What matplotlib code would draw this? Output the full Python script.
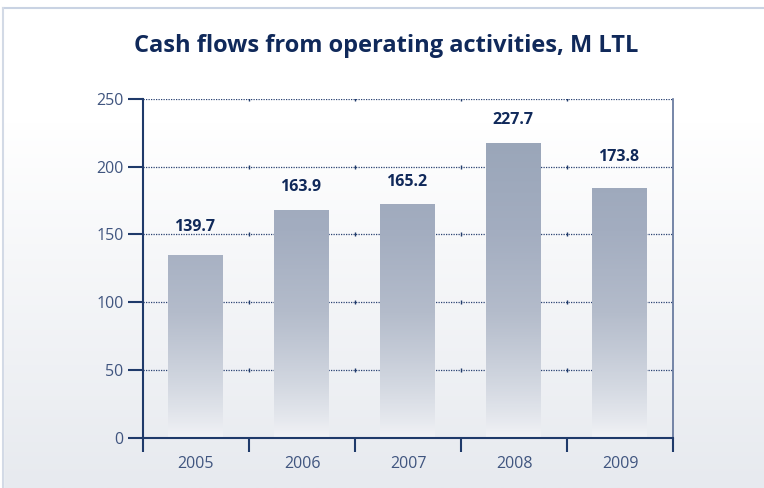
import numpy as np
import matplotlib.pyplot as plt
from matplotlib.colors import LinearSegmentedColormap

# Data
years = ['2005', '2006', '2007', '2008', '2009']
bar_heights = [134.8, 168.0, 172.5, 217.7, 184.3]      # drawn bar heights
bar_labels = ['139.7', '163.9', '165.2', '227.7', '173.8']  # printed values
y_ticks = [0, 50, 100, 150, 200, 250]

# label offsets above each bar (data units), as placed in the original
label_pad = [21, 17, 16, 17, 23]

NAVY = '#10295a'
AXIS = '#1f3a6a'
TICK_TXT = '#40557f'

plt.rcParams['font.family'] = ['Open Sans', 'DejaVu Sans']

fig = plt.figure(figsize=(7.64, 4.88), dpi=100)

# background: white to pale grey-blue, with a thin frame on top / left
bg = fig.add_axes([0, 0, 1, 1], zorder=-10)
grad = np.linspace(0, 1, 256).reshape(-1, 1)
grad = np.clip((grad - 0.25) / 0.75, 0, 1)
bg_cmap = LinearSegmentedColormap.from_list('bg', ['#ffffff', '#e7eaef'])
bg.imshow(grad, aspect='auto', cmap=bg_cmap, extent=[0, 1, 0, 1], origin='upper')
bg.set_xlim(0, 1)
bg.set_ylim(0, 1)
bg.axis('off')
bg.fill_between([0, 1], 1 - 7 / 488, 1, color='white', zorder=2)
bg.fill_between([0, 3 / 764], 0, 1, color='white', zorder=2)
bg.plot([3 / 764, 1], [1 - 8 / 488, 1 - 8 / 488], color='#c9d3e3', lw=1.5, zorder=3)
bg.plot([3.5 / 764, 3.5 / 764], [0, 1 - 8 / 488], color='#d3dae6', lw=1.5, zorder=3)

fig.text(0.506, 0.905, 'Cash flows from operating activities, M LTL',
         ha='center', va='center', fontsize=17, fontweight='bold', color=NAVY)

ax = fig.add_axes([143 / 764, 50.3 / 488, 530 / 764, 338.7 / 488])
ax.set_facecolor('none')

# gridlines (dotted) with small marks at the category boundaries
for v in y_ticks[1:]:
    ax.axhline(v, color='#2a4272', lw=0.9, ls=(0, (1, 1)), zorder=1)
    ax.plot(range(1, len(years)), [v] * (len(years) - 1), ls='none',
            marker='|', ms=2.5, mew=1.0, color=AXIS, zorder=1)

# gradient-filled bars
bar_cmap = LinearSegmentedColormap.from_list(
    'bar', ['#f3f4f7', '#d3d8e1', '#b4bccb', '#a3adc0', '#9aa6b9'])
width = 0.51
for i, h in enumerate(bar_heights):
    x0 = i + 0.49 - width / 2
    col = np.linspace(0, h, 200).reshape(-1, 1)
    ax.imshow(np.clip(col / 220, 0, 1) ** 0.8, cmap=bar_cmap, vmin=0, vmax=1,
              aspect='auto', origin='lower', extent=[x0, x0 + width, 0, h],
              zorder=2)
    ax.text(i + 0.49, h + label_pad[i], bar_labels[i], ha='center', va='center',
            fontsize=11.5, fontweight='bold', color=NAVY, zorder=3)

ax.set_xlim(0, len(years))
ax.set_ylim(0, 250)

ax.spines['top'].set_visible(False)
ax.spines['left'].set_color(AXIS)
ax.spines['left'].set_linewidth(1.5)
ax.spines['bottom'].set_color(AXIS)
ax.spines['bottom'].set_linewidth(1.5)
ax.spines['right'].set_color('#5f7299')
ax.spines['right'].set_linewidth(1.2)
for sp in ax.spines.values():
    sp.set_zorder(4)

ax.set_yticks(y_ticks)
ax.set_yticklabels([str(v) for v in y_ticks])
ax.tick_params(axis='y', direction='out', length=11, width=1.5, color=AXIS,
               labelsize=11.5, labelcolor=TICK_TXT, pad=3)

ax.set_xticks(range(len(years) + 1))
ax.set_xticklabels([])
ax.tick_params(axis='x', which='major', direction='out', length=10, width=1.5,
               color=AXIS)
ax.set_xticks(np.arange(len(years)) + 0.5, minor=True)
ax.set_xticklabels(years, minor=True)
ax.tick_params(axis='x', which='minor', length=0, labelsize=11.5,
               labelcolor=TICK_TXT, pad=13)

fig.savefig('out.png', dpi=100)
